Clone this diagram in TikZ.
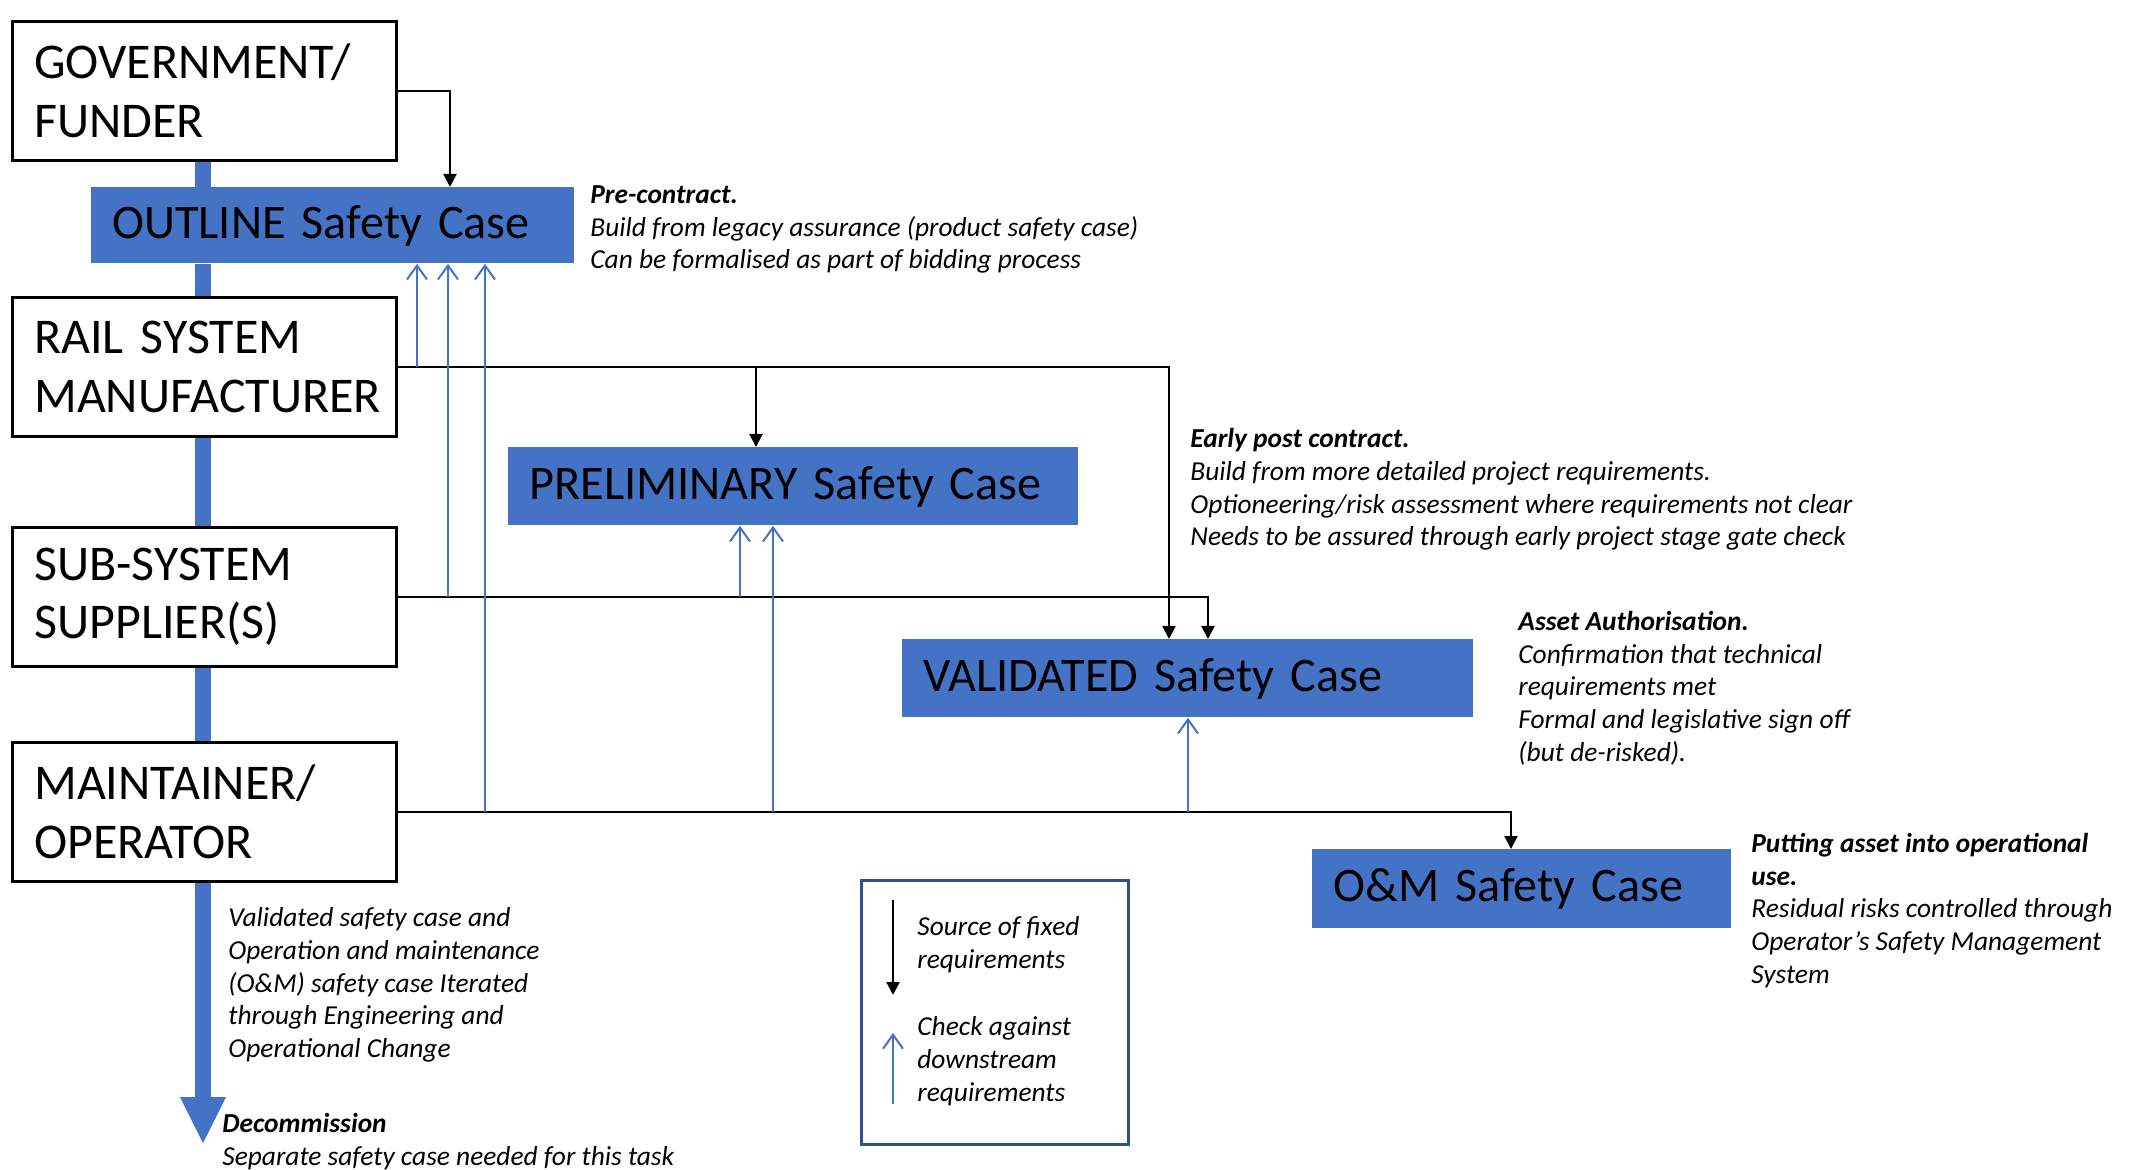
\documentclass[tikz,border=0pt]{standalone}
\usepackage{fontspec}
\setmainfont{Carlito}
\usetikzlibrary{arrows.meta}
\definecolor{obl}{HTML}{4472C4}
\definecolor{legb}{HTML}{2F528F}
\begin{document}
\begin{tikzpicture}[x=0.5pt,y=-0.5pt,
  actor/.style={draw=black, line width=1.3pt, fill=white, anchor=north west, minimum width=192pt, minimum height=69.5pt, text width=170pt, inner xsep=11pt, align=left, font=\fontsize{25}{29.3}\selectfont},
  sc/.style={fill=obl, anchor=north west, inner xsep=10.5pt, align=left, font=\fontsize{24.1}{27}\selectfont},
  note/.style={anchor=west, align=left, inner sep=0pt, font=\fontsize{13.7}{16.35}\selectfont\itshape},
  req/.style={draw=black, line width=1.1pt, -{Triangle[length=6.5pt,width=6.5pt]}},
  chk/.style={draw=obl, line width=1pt, -{Straight Barb[length=7pt,width=10pt]}},
  tline/.style={draw=obl, line width=8pt},
]
\useasboundingbox (0,0) rectangle (2137,1170);

% actors
\node[actor] (gov) at (11,20) {GOVERNMENT/\\FUNDER};
\node[actor] (rail) at (11,296) {RAIL SYSTEM\\MANUFACTURER};
\node[actor] (sub) at (11,526) {SUB-SYSTEM\\SUPPLIER(S)};
\node[actor] (maint) at (11,741) {MAINTAINER/\\OPERATOR};

% safety cases
\node[sc, minimum width=241.5pt, minimum height=38pt, text width=220.5pt] (outline) at (91,187) {OUTLINE Safety Case};
\node[sc, minimum width=285pt, minimum height=39pt, text width=264pt] (prelim) at (508,447) {PRELIMINARY Safety Case};
\node[sc, minimum width=285.5pt, minimum height=39pt, text width=264.5pt] (valid) at (902,639) {VALIDATED Safety Case};
\node[sc, minimum width=209.5pt, minimum height=39.5pt, text width=188.5pt] (om) at (1312,849) {O\&M Safety Case};

% timeline
\coordinate (tx) at (203,0);
\coordinate (tb) at (203,1099);
\draw[tline] (gov.south -| tx) -- (outline.north -| tx);
\draw[tline] (outline.south -| tx) -- (rail.north -| tx);
\draw[tline] (rail.south -| tx) -- (sub.north -| tx);
\draw[tline] (sub.south -| tx) -- (maint.north -| tx);
\draw[tline] (maint.south -| tx) -- (tb);
\fill[obl] (180,1097) -- (226,1097) -- (203,1143) -- cycle;

% x positions
\coordinate (xg) at (450,0);
\coordinate (xp) at (756,0);
\coordinate (xv1) at (1169,0);
\coordinate (xv2) at (1208,0);
\coordinate (xo) at (1511,0);
\coordinate (c1) at (417,0);
\coordinate (c2) at (448,0);
\coordinate (c3) at (485,0);
\coordinate (c4) at (740,0);
\coordinate (c5) at (773,0);
\coordinate (c6) at (1188,0);

% requirement connectors
\draw[req] (gov.east) -| (outline.north -| xg);
\draw[req] (rail.east) -| (valid.north -| xv1);
\draw[req] (rail.east -| xp) -- (prelim.north -| xp);
\draw[req] (sub.east) -| (valid.north -| xv2);
\draw[req] (maint.east) -| (om.north -| xo);

% check connectors
\draw[chk] (rail.east -| c1) -- (outline.south -| c1);
\draw[chk] (sub.east -| c2) -- (outline.south -| c2);
\draw[chk] (maint.east -| c3) -- (outline.south -| c3);
\draw[chk] (sub.east -| c4) -- (prelim.south -| c4);
\draw[chk] (maint.east -| c5) -- (prelim.south -| c5);
\draw[chk] (maint.east -| c6) -- (valid.south -| c6);

% notes
\node[note] (npre) at (590,229.5) {\textbf{Pre-contract.}\\Build from legacy assurance (product safety case)\\Can be formalised as part of bidding process};
\node[note] (nearly) at (1190,489.5) {\textbf{Early post contract.}\\Build from more detailed project requirements.\\Optioneering/risk assessment where requirements not clear\\Needs to be assured through early project stage gate check};
\node[note] (nasset) at (1518,688) {\textbf{Asset Authorisation.}\\Confirmation that technical\\requirements met\\Formal and legislative sign off\\(but de-risked).};
\node[note] (nput) at (1751,910.5) {\textbf{Putting asset into operational}\\\textbf{use.}\\Residual risks controlled through\\Operator’s Safety Management\\System};
\node[note] (nval) at (228,985) {Validated safety case and\\Operation and maintenance\\(O\&M) safety case Iterated\\through Engineering and\\Operational Change};
\node[note] (ndec) at (222,1141.5) {\textbf{Decommission}\\Separate safety case needed for this task};

% legend
\node[draw=legb, line width=1.3pt, anchor=north west, minimum width=133.5pt, minimum height=132pt] (leg) at (860,879) {};
\coordinate (la1) at (893,900);
\coordinate (la2) at (893,995);
\coordinate (lb1) at (893,1104);
\coordinate (lb2) at (893,1033);
\draw[req] (la1) -- (la2);
\draw[chk] (lb1) -- (lb2);
\node[note] (lt1) at (917,945) {Source of fixed\\requirements};
\node[note] (lt2) at (917,1061) {Check against\\downstream\\requirements};
\end{tikzpicture}
\end{document}
